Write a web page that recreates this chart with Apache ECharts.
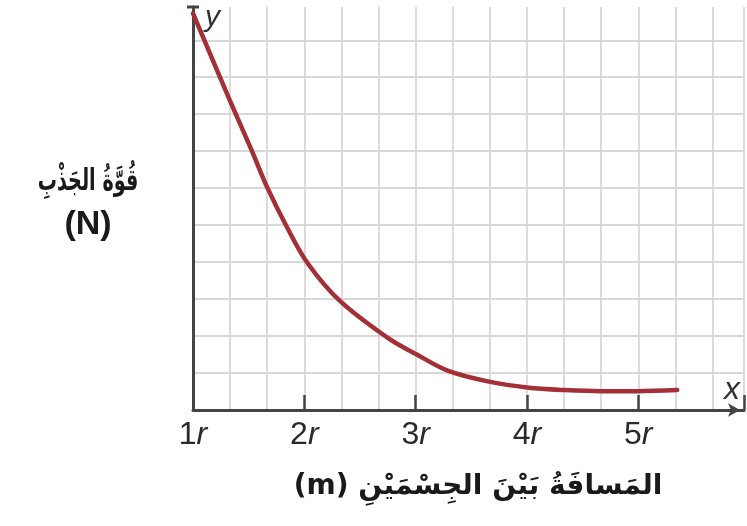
<!DOCTYPE html>
<html>
<head>
<meta charset="utf-8">
<script src="https://cdn.jsdelivr.net/npm/echarts@6/dist/echarts.min.js"></script>
<style>
html,body{margin:0;padding:0;background:#fff;}
#c{width:747px;height:526px;}
</style>
</head>
<body>
<div id="c"></div>
<script>
// distance in units of r
const distR = [1.0, 1.33, 1.53, 1.67, 1.84, 2.03, 2.32, 2.75, 3.01, 3.3, 3.67, 4.0, 4.34, 4.67, 4.99, 5.35];
// attraction force (grid units)
const force = [10.73, 8.38, 7.0, 6.0, 4.97, 3.97, 2.95, 1.95, 1.5, 1.05, 0.76, 0.61, 0.54, 0.51, 0.51, 0.54];
const xTickLabels = [1, 2, 3, 4, 5];
const yName = ['قُوَّةُ الجَذْبِ', '(N)'];
const xName = '(m) المَسافَةُ بَيْنَ الجِسْمَيْنِ';

const chart = echarts.init(document.getElementById('c'), null, {renderer: 'canvas'});
const gridColor = '#d8d8d8';
const axisColor = '#444';
const X_MIN = 1, X_MAX = 5.95;

function isInt(v){ return Math.abs(v - Math.round(v)) < 0.01; }

chart.setOption({
  animation: false,
  backgroundColor: '#fff',
  grid: {left: 193, right: 2, top: 7, bottom: 116, containLabel: false},
  xAxis: [{
    type: 'value', min: X_MIN, max: X_MAX, interval: 1/3,
    axisLine: {show: true, lineStyle: {color: axisColor, width: 3}, symbol: ['none', 'arrow'], symbolSize: [10, 12], symbolOffset: [0, -4]},
    axisTick: {show: false},
    splitLine: {show: true, lineStyle: {color: gridColor, width: 1.8}},
    axisLabel: {
      margin: 9,
      formatter: function(v){
        if (!isInt(v)) return '';
        const n = Math.round(v);
        if (xTickLabels.indexOf(n) < 0) return '';
        return '{a|' + n + '}{b|r}';
      },
      rich: {
        a: {fontFamily: 'Liberation Sans', fontSize: 32, color: '#2a2a2a'},
        b: {fontFamily: 'Liberation Sans', fontSize: 32, fontStyle: 'italic', color: '#2a2a2a'}
      }
    }
  }, {
    type: 'value', min: X_MIN, max: X_MAX, interval: 1, position: 'bottom',
    axisLine: {show: false},
    axisTick: {show: true, inside: true, length: 15, lineStyle: {color: axisColor, width: 2.5}},
    splitLine: {show: false},
    axisLabel: {show: false}
  }],
  yAxis: {
    type: 'value', min: 0, max: 10.9, interval: 1,
    axisLine: {show: true, onZero: false, lineStyle: {color: axisColor, width: 3}, symbol: ['none', 'rect'], symbolSize: [12, 3]},
    axisTick: {show: false},
    axisLabel: {show: false},
    splitLine: {show: true, showMaxLine: false, lineStyle: {color: gridColor, width: 1.8}}
  },
  series: [{
    type: 'line',
    xAxisIndex: 0,
    data: distR.map((x, i) => [x, force[i]]),
    smooth: 0.35,
    showSymbol: false,
    lineStyle: {color: '#a52f37', width: 4.5, cap: 'round'},
    z: 5
  }],
  graphic: [
    {type: 'text', x: 88, y: 182, scaleX: 0.64, style: {text: yName[0], font: 'bold 30px "DejaVu Sans"', fill: '#1a1a1a', align: 'center', verticalAlign: 'middle'}},
    {type: 'text', x: 88, y: 225, style: {text: yName[1], font: 'bold 34px "Liberation Sans"', fill: '#1a1a1a', align: 'center', verticalAlign: 'middle'}},
    {type: 'text', x: 478, y: 487, style: {text: xName, font: 'bold 28px "DejaVu Sans"', fill: '#1a1a1a', align: 'center', verticalAlign: 'middle'}},
    {type: 'text', x: 205, y: 18, style: {text: 'y', font: 'italic 30px "Liberation Sans"', fill: '#333', align: 'left', verticalAlign: 'middle'}},
    {type: 'text', x: 732, y: 390, style: {text: 'x', font: 'italic 32px "Liberation Sans"', fill: '#333', align: 'center', verticalAlign: 'middle'}}
  ]
});
</script>
</body>
</html>
